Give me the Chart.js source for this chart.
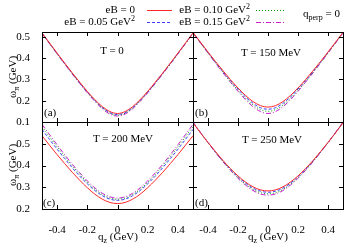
<!DOCTYPE html>
<html>
<head>
<meta charset="utf-8">
<script src="https://cdn.jsdelivr.net/npm/chart.js@4.4.0/dist/chart.umd.min.js"></script>
<style>
  body { margin: 0; background: #fff; }
  #wrap { position: relative; width: 350px; height: 245px; font-family: 'Liberation Serif', serif; font-size: 11px; color: #000; overflow: hidden; }
  #wrap canvas { position: absolute; left: 0; top: 0; }
  .t { position: absolute; white-space: nowrap; line-height: 11px; }
  .c { transform: translate(-50%, -50%); }
  .rot { transform: translate(-50%, -50%) rotate(-90deg); }
  sup { font-size: 8px; vertical-align: 4px; line-height: 0; }
  sub { font-size: 8px; vertical-align: -3px; line-height: 0; }
  svg { position: absolute; }
</style>
</head>
<body>
<div id="wrap">
  <canvas id="pa" width="350" height="245"></canvas>
  <canvas id="pb" width="350" height="245"></canvas>
  <canvas id="pc" width="350" height="245"></canvas>
  <canvas id="pd" width="350" height="245"></canvas>

  <!-- legend -->
  <div class="t" style="right:215px; top:4px;">eB = 0</div>
  <div class="t" style="right:215px; top:16px;">eB = 0.05 GeV<sup>2</sup></div>
  <div class="t" style="right:100px; top:4px;">eB = 0.10 GeV<sup>2</sup></div>
  <div class="t" style="right:100px; top:16px;">eB = 0.15 GeV<sup>2</sup></div>
  <svg style="left:147px; top:5px;" width="25" height="22">
    <line x1="0" y1="5.5" x2="25" y2="5.5" stroke="rgb(255,40,40)" stroke-width="1"/>
    <line x1="0" y1="17.5" x2="25" y2="17.5" stroke="rgb(60,60,255)" stroke-width="1" stroke-dasharray="3,2"/>
  </svg>
  <svg style="left:256px; top:5px;" width="28" height="22">
    <line x1="0" y1="5.5" x2="28" y2="5.5" stroke="rgb(0,160,0)" stroke-width="1" stroke-dasharray="1,2"/>
    <line x1="0" y1="17.5" x2="28" y2="17.5" stroke="rgb(200,30,200)" stroke-width="1" stroke-dasharray="5,2,1,2"/>
  </svg>
  <div class="t" style="left:303px; top:8px;">q<sub>perp</sub> = 0</div>

  <!-- panel notes -->
  <div class="t c" style="left:112px; top:50px;">T = 0</div>
  <div class="t c" style="left:271px; top:52px;">T = 150 MeV</div>
  <div class="t c" style="left:123px; top:138px;">T = 200 MeV</div>
  <div class="t c" style="left:272px; top:139px;">T = 250 MeV</div>
  <div class="t" style="left:44px; top:107px;">(a)</div>
  <div class="t" style="left:195px; top:107px;">(b)</div>
  <div class="t" style="left:43px; top:197px;">(c)</div>
  <div class="t" style="left:195px; top:197px;">(d)</div>

  <!-- axis titles -->
  <div class="t rot" style="left:12px; top:77px;">&omega;<sub>&pi;</sub> (GeV)</div>
  <div class="t rot" style="left:12px; top:165px;">&omega;<sub>&pi;</sub> (GeV)</div>
  <div class="t c" style="left:118px; top:236px;">q<sub>z</sub> (GeV)</div>
  <div class="t c" style="left:268px; top:236px;">q<sub>z</sub> (GeV)</div>
</div>

<script>
// q_z grid (GeV)
var qz = [-0.5, -0.45, -0.4, -0.35, -0.3, -0.25, -0.2, -0.15, -0.1, -0.05, 0,
          0.05, 0.1, 0.15, 0.2, 0.25, 0.3, 0.35, 0.4, 0.45, 0.5];

var xTicks = [-0.4, -0.2, 0, 0.2, 0.4];
var yTicksTop = [0.1, 0.2, 0.3, 0.4, 0.5];
var yTicksBottom = [0.2, 0.3, 0.4, 0.5];

var seriesNames = ['eB = 0', 'eB = 0.05 GeV²', 'eB = 0.10 GeV²', 'eB = 0.15 GeV²'];

// (a) T = 0
var a_eB000 = [0.519,0.471,0.424,0.377,0.331,0.287,0.244,0.205,0.172,0.149,0.140,0.149,0.172,0.205,0.244,0.287,0.331,0.377,0.424,0.471,0.519];
var a_eB005 = [0.518,0.470,0.422,0.375,0.329,0.284,0.241,0.202,0.168,0.144,0.135,0.144,0.168,0.202,0.241,0.284,0.329,0.375,0.422,0.470,0.518];
var a_eB010 = [0.517,0.469,0.421,0.374,0.328,0.283,0.240,0.200,0.166,0.141,0.132,0.141,0.166,0.200,0.240,0.283,0.328,0.374,0.421,0.469,0.517];
var a_eB015 = [0.516,0.468,0.420,0.373,0.326,0.281,0.237,0.197,0.162,0.137,0.128,0.137,0.162,0.197,0.237,0.281,0.326,0.373,0.420,0.468,0.516];

// (b) T = 150 MeV
var b_eB000 = [0.521,0.475,0.429,0.384,0.341,0.299,0.260,0.225,0.196,0.177,0.170,0.177,0.196,0.225,0.260,0.299,0.341,0.384,0.429,0.475,0.521];
var b_eB005 = [0.520,0.473,0.427,0.382,0.337,0.295,0.255,0.218,0.188,0.167,0.160,0.167,0.188,0.218,0.255,0.295,0.337,0.382,0.427,0.473,0.520];
var b_eB010 = [0.520,0.472,0.425,0.379,0.334,0.290,0.249,0.212,0.180,0.158,0.150,0.158,0.180,0.212,0.249,0.290,0.334,0.379,0.425,0.472,0.520];
var b_eB015 = [0.519,0.471,0.424,0.377,0.331,0.287,0.244,0.205,0.172,0.149,0.140,0.149,0.172,0.205,0.244,0.287,0.331,0.377,0.424,0.471,0.519];

// (c) T = 200 MeV
var c_eB000 = [0.537,0.493,0.450,0.409,0.369,0.332,0.298,0.268,0.245,0.230,0.225,0.230,0.245,0.268,0.298,0.332,0.369,0.409,0.450,0.493,0.537];
var c_eB005 = [0.566,0.520,0.475,0.432,0.390,0.351,0.316,0.285,0.261,0.245,0.240,0.245,0.261,0.285,0.316,0.351,0.390,0.432,0.475,0.520,0.566];
var c_eB010 = [0.579,0.532,0.486,0.441,0.399,0.359,0.322,0.291,0.266,0.250,0.245,0.250,0.266,0.291,0.322,0.359,0.399,0.441,0.486,0.532,0.579];
var c_eB015 = [0.589,0.542,0.495,0.450,0.406,0.366,0.329,0.297,0.272,0.256,0.250,0.256,0.272,0.297,0.329,0.366,0.406,0.450,0.495,0.542,0.589];

// (d) T = 250 MeV
var d_eB000 = [0.596,0.550,0.506,0.464,0.423,0.386,0.352,0.324,0.302,0.288,0.283,0.288,0.302,0.324,0.352,0.386,0.423,0.464,0.506,0.550,0.596];
var d_eB005 = [0.597,0.551,0.506,0.462,0.421,0.383,0.349,0.319,0.296,0.282,0.277,0.282,0.296,0.319,0.349,0.383,0.421,0.462,0.506,0.551,0.597];
var d_eB010 = [0.598,0.551,0.505,0.461,0.419,0.380,0.344,0.314,0.290,0.275,0.270,0.275,0.290,0.314,0.344,0.380,0.419,0.461,0.505,0.551,0.598];
var d_eB015 = [0.600,0.552,0.505,0.460,0.417,0.377,0.341,0.310,0.285,0.269,0.264,0.269,0.285,0.310,0.341,0.377,0.417,0.460,0.505,0.552,0.600];

var lineColors = ['rgb(255,40,40)', 'rgb(60,60,255)', 'rgb(0,160,0)', 'rgb(200,30,200)'];
var lineDashes = [[], [3, 2], [1, 2], [5, 2, 1, 2]];

var FONT = { family: "'Liberation Serif', serif", size: 11 };

// frame + inward ticks like gnuplot
var framePlugin = {
  id: 'frame',
  afterDraw: function(chart) {
    var a = chart.chartArea, ctx = chart.ctx;
    var xs = chart.scales.x, ys = chart.scales.y;
    var yt = chart.options.plugins.frame.yTicks;
    ctx.save();
    ctx.strokeStyle = '#000';
    ctx.lineWidth = 1;
    ctx.beginPath();
    xTicks.forEach(function(v) {
      var px = Math.round(xs.getPixelForValue(v)) + 0.5;
      ctx.moveTo(px, a.bottom); ctx.lineTo(px, a.bottom - 4);
      ctx.moveTo(px, a.top); ctx.lineTo(px, a.top + 4);
    });
    yt.forEach(function(v) {
      var py = Math.round(ys.getPixelForValue(v)) + 0.5;
      ctx.moveTo(a.left, py); ctx.lineTo(a.left + 4, py);
      ctx.moveTo(a.right, py); ctx.lineTo(a.right - 4, py);
    });
    ctx.stroke();
    ctx.strokeRect(Math.round(a.left) + 0.5, Math.round(a.top) + 0.5,
                   Math.round(a.right - a.left), Math.round(a.bottom - a.top));
    ctx.restore();
  }
};

function makePanel(id, series, p) {
  var datasets = series.map(function(vals, i) {
    return {
      label: seriesNames[i],
      data: qz.map(function(q, j) { return { x: q, y: vals[j] }; }),
      borderColor: lineColors[i],
      borderDash: lineDashes[i],
      borderWidth: 1,
      pointRadius: 0,
      fill: false,
      cubicInterpolationMode: 'monotone'
    };
  });

  return new Chart(document.getElementById(id), {
    type: 'line',
    data: { datasets: datasets },
    options: {
      responsive: false,
      animation: false,
      events: [],
      layout: { padding: p.padding },
      plugins: {
        legend: { display: false },
        tooltip: { enabled: false },
        frame: { yTicks: p.yTicks }
      },
      scales: {
        x: {
          type: 'linear',
          min: -0.5, max: 0.5,
          display: p.showX,
          grid: { display: false },
          border: { display: false },
          afterBuildTicks: function(s) { s.ticks = xTicks.map(function(v) { return { value: v }; }); },
          afterFit: function(s) { s.height = p.showX ? 36 : 0; },
          ticks: {
            autoSkip: false, maxRotation: 0, padding: 7, color: '#000', font: FONT,
            callback: function(v) { return v === 0 ? '0' : v.toFixed(1); }
          }
        },
        y: {
          type: 'linear',
          min: p.yMin, max: p.yMax,
          display: p.showY,
          grid: { display: false },
          border: { display: false },
          afterBuildTicks: function(s) { s.ticks = p.yTicks.map(function(v) { return { value: v }; }); },
          afterFit: function(s) { s.width = p.showY ? 42 : 0; },
          ticks: {
            autoSkip: false, padding: 4, color: '#000', font: FONT,
            callback: function(v) { return v.toFixed(1); }
          }
        }
      }
    },
    plugins: [framePlugin]
  });
}

makePanel('pa', [a_eB000, a_eB005, a_eB010, a_eB015], {
  padding: { left: 0, right: 157, top: 32, bottom: 123 },
  yMin: 0.1, yMax: 0.523, yTicks: yTicksTop, showX: false, showY: true
});
makePanel('pb', [b_eB000, b_eB005, b_eB010, b_eB015], {
  padding: { left: 193, right: 7, top: 32, bottom: 123 },
  yMin: 0.1, yMax: 0.523, yTicks: yTicksTop, showX: false, showY: false
});
makePanel('pc', [c_eB000, c_eB005, c_eB010, c_eB015], {
  padding: { left: 0, right: 157, top: 122, bottom: 0 },
  yMin: 0.2, yMax: 0.6, yTicks: yTicksBottom, showX: true, showY: true
});
makePanel('pd', [d_eB000, d_eB005, d_eB010, d_eB015], {
  padding: { left: 193, right: 7, top: 122, bottom: 0 },
  yMin: 0.2, yMax: 0.6, yTicks: yTicksBottom, showX: true, showY: false
});
</script>
</body>
</html>
